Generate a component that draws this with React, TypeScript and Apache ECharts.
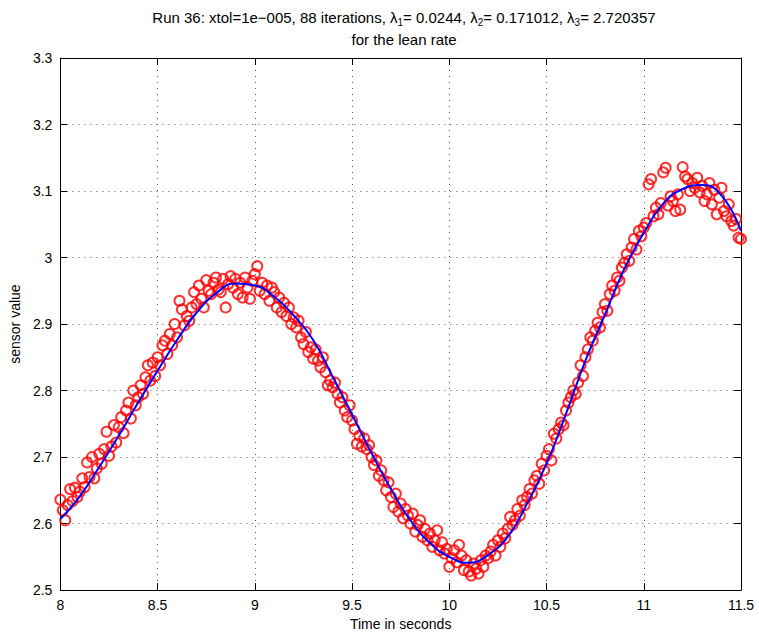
import React, { useEffect, useRef } from "react";
import * as echarts from "echarts";

// Sensor samples (lean rate), taken every samplePeriod seconds from sampleStart
const sampleStart = 8;
const samplePeriod = 0.0125;
const sensorValues = [
  2.636, 2.620, 2.605, 2.628, 2.652, 2.634, 2.654, 2.640,
  2.648, 2.668, 2.655, 2.692, 2.670, 2.700, 2.668, 2.683,
  2.705, 2.690, 2.712, 2.738, 2.702, 2.716, 2.748, 2.722,
  2.745, 2.760, 2.736, 2.770, 2.782, 2.758, 2.800, 2.778,
  2.790, 2.808, 2.795, 2.820, 2.838, 2.815, 2.842, 2.822,
  2.850, 2.838, 2.868, 2.875, 2.855, 2.885, 2.868, 2.900,
  2.880, 2.935, 2.922, 2.898, 2.912, 2.905, 2.925, 2.948,
  2.930, 2.958, 2.938, 2.925, 2.966, 2.950, 2.945, 2.962,
  2.970, 2.952, 2.948, 2.968, 2.925, 2.960, 2.972, 2.955,
  2.968, 2.945, 2.962, 2.940, 2.970, 2.955, 2.938, 2.965,
  2.975, 2.987, 2.950, 2.962, 2.945, 2.958, 2.935, 2.955,
  2.948, 2.925, 2.940, 2.918, 2.932, 2.912, 2.925, 2.900,
  2.910, 2.895, 2.905, 2.880, 2.870, 2.888, 2.858, 2.865,
  2.848, 2.862, 2.845, 2.835, 2.850, 2.828, 2.808, 2.815,
  2.805, 2.812, 2.795, 2.782, 2.790, 2.770, 2.760, 2.778,
  2.755, 2.742, 2.720, 2.732, 2.716, 2.728, 2.712, 2.718,
  2.700, 2.688, 2.695, 2.672, 2.680, 2.665, 2.650, 2.662,
  2.640, 2.625, 2.645, 2.618, 2.630, 2.608, 2.622, 2.612,
  2.600, 2.615, 2.588, 2.598, 2.605, 2.580, 2.592, 2.575,
  2.585, 2.565, 2.575, 2.590, 2.560, 2.572, 2.555, 2.562,
  2.535, 2.548, 2.560, 2.542, 2.568, 2.552, 2.530, 2.545,
  2.528, 2.522, 2.540, 2.532, 2.525, 2.545, 2.535, 2.552,
  2.548, 2.558, 2.568, 2.552, 2.575, 2.565, 2.585, 2.578,
  2.592, 2.610, 2.598, 2.605, 2.622, 2.612, 2.635, 2.628,
  2.640, 2.652, 2.645, 2.665, 2.672, 2.660, 2.690, 2.680,
  2.702, 2.712, 2.695, 2.735, 2.728, 2.742, 2.752, 2.748,
  2.770, 2.782, 2.790, 2.800, 2.795, 2.812, 2.838, 2.822,
  2.850, 2.862, 2.880, 2.875, 2.890, 2.902, 2.895, 2.918,
  2.930, 2.920, 2.945, 2.958, 2.950, 2.970, 2.965, 2.985,
  2.992, 3.005, 2.995, 3.015, 3.028, 3.012, 3.040, 3.032,
  3.045, 3.052, 3.110, 3.118, 3.062, 3.075, 3.065, 3.082,
  3.128, 3.135, 3.078, 3.092, 3.085, 3.070, 3.095, 3.072,
  3.136, 3.122, 3.118, 3.100, 3.112, 3.105, 3.120, 3.098,
  3.108, 3.085, 3.095, 3.112, 3.080, 3.102, 3.065, 3.090,
  3.105, 3.070, 3.062, 3.080, 3.055, 3.048, 3.058, 3.030,
  3.028,
];

// Fitted model curve
const fitTimes = [
  8.0, 8.1, 8.2, 8.3, 8.4, 8.5, 8.6, 8.7, 8.8, 8.9, 9.0, 9.1, 9.2, 9.3,
  9.4, 9.5, 9.6, 9.7, 9.8, 9.9, 10.0, 10.1, 10.2, 10.3, 10.4, 10.5, 10.6,
  10.7, 10.8, 10.9, 11.0, 11.1, 11.2, 11.3, 11.4, 11.5,
];
const fitValues = [
  2.607, 2.641, 2.685, 2.732, 2.782, 2.830, 2.876, 2.917, 2.946, 2.961,
  2.958, 2.941, 2.913, 2.876, 2.821, 2.764, 2.706, 2.652, 2.605, 2.571,
  2.550, 2.541, 2.553, 2.580, 2.630, 2.690, 2.765, 2.845, 2.914, 2.983,
  3.037, 3.081, 3.103, 3.109, 3.093, 3.040,
];

const xTicks = { min: 8, max: 11.5, interval: 0.5 };
const yTicks = { min: 2.5, max: 3.3, interval: 0.1 };

const FONT = "'Liberation Sans', Arial, Helvetica, sans-serif";

export default function App() {
  const ref = useRef<HTMLDivElement>(null);

  useEffect(() => {
    document.body.style.margin = "0";
    const chart = echarts.init(ref.current!, null, { renderer: "svg" });

    const scatterData = sensorValues.map((v, i) => [
      sampleStart + i * samplePeriod,
      v,
    ]);
    const fitData = fitTimes.map((t, i) => [t, fitValues[i]]);

    const gridLine = {
      show: true,
      lineStyle: { color: "#555", width: 1, type: [1, 5] as number[] },
    };
    const axisLine = { show: true, onZero: false, lineStyle: { color: "#000", width: 1 } };
    const tick = { show: true, inside: true, length: 7, lineStyle: { color: "#000", width: 1 } };

    const sub = { fontSize: 10, fontFamily: FONT, color: "#000", padding: [10, 0, 0, 0] };
    const main = { fontSize: 15, fontFamily: FONT, color: "#000" };

    chart.setOption({
      animation: false,
      backgroundColor: "#fff",
      title: {
        left: 399,
        top: 1,
        textAlign: "center",
        text:
          "{m|Run 36: xtol=1e\u2212005, 88 iterations, λ}{s|1}{m|= 0.0244, λ}{s|2}{m|= 0.171012, λ}{s|3}{m|= 2.720357}\n{m|for the lean rate}",
        textStyle: {
          fontSize: 15,
          fontFamily: FONT,
          fontWeight: "normal",
          color: "#000",
          lineHeight: 22,
          rich: { m: { ...main, lineHeight: 22 }, s: sub },
        },
      },
      grid: { left: 58, right: 18, top: 58, bottom: 40, show: false },
      xAxis: [
        {
          type: "value",
          position: "bottom",
          ...xTicks,
          name: "Time in seconds",
          nameLocation: "middle",
          nameGap: 25,
          nameTextStyle: { fontSize: 14, fontFamily: FONT, color: "#000" },
          axisLine,
          axisTick: tick,
          axisLabel: { fontSize: 14, fontFamily: FONT, color: "#000", margin: 8 },
          splitLine: gridLine,
        },
        {
          type: "value",
          position: "top",
          ...xTicks,
          axisLine,
          axisTick: tick,
          axisLabel: { show: false },
          splitLine: { show: false },
        },
      ],
      yAxis: [
        {
          type: "value",
          position: "left",
          ...yTicks,
          name: "sensor value",
          nameLocation: "middle",
          nameGap: 27,
          nameTextStyle: { fontSize: 14, fontFamily: FONT, color: "#000" },
          axisLine,
          axisTick: tick,
          axisLabel: { fontSize: 14, fontFamily: FONT, color: "#000", margin: 8 },
          splitLine: gridLine,
        },
        {
          type: "value",
          position: "right",
          ...yTicks,
          axisLine,
          axisTick: tick,
          axisLabel: { show: false },
          splitLine: { show: false },
        },
      ],
      series: [
        {
          type: "scatter",
          name: "sensor",
          data: scatterData,
          symbol: "circle",
          symbolSize: 10,
          itemStyle: { color: "rgba(0,0,0,0)", borderColor: "#ff0000", borderWidth: 2 },
          z: 2,
        },
        {
          type: "line",
          name: "fit",
          data: fitData,
          smooth: 0.5,
          showSymbol: false,
          lineStyle: { color: "#0000ff", width: 2 },
          z: 3,
        },
      ],
    });

    return () => chart.dispose();
  }, []);

  return <div ref={ref} style={{ width: 759, height: 636 }} />;
}
